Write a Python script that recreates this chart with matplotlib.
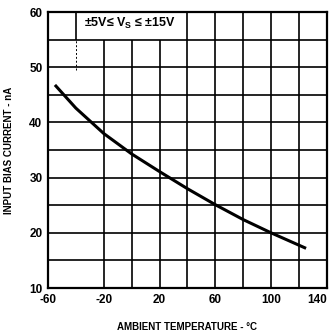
import matplotlib.pyplot as plt

temp = [-55, -40, -20, 0, 20, 40, 60, 80, 100, 125]
bias = [46.8, 42.6, 38.0, 34.3, 31.1, 28.0, 25.1, 22.4, 20.0, 17.2]

xticks = [-60, -20, 20, 60, 100, 140]
yticks = [10, 20, 30, 40, 50, 60]

plt.rcParams['font.family'] = ['Liberation Sans', 'DejaVu Sans']
plt.rcParams['axes.unicode_minus'] = False

fig = plt.figure(figsize=(3.33, 3.35), dpi=100)
ax = fig.add_axes([0.144, 0.140, 0.838, 0.824])
ax.set_xlim(-60, 140)
ax.set_ylim(10, 60)

# grid (some lines are cut by the condition box in the original)
ax.vlines([-20, 0, 20], 10, 55, color='black', lw=1.2)
ax.vlines([40, 60, 80, 100, 120], 10, 60, color='black', lw=1.2)
ax.vlines([-40], 55, 60, color='black', lw=1.2)
ax.vlines([-40], 49.5, 55, color='black', lw=0.7, linestyles=(0, (2, 2)))
ax.hlines([15, 20, 25, 30, 35, 40, 45, 50, 55], -60, 140, color='black', lw=1.2)

ax.plot(temp, bias, color='black', lw=2.2, solid_capstyle='butt')

ax.text(-1.5, 57.9, '±5V≤ V$_\\mathregular{S}$ ≤ ±15V', ha='center', va='center',
        fontsize=9, fontweight='bold')

ax.set_xticks(xticks)
ax.set_yticks(yticks)
ax.tick_params(length=0, labelsize=8.5, pad=4)
for lbl in ax.get_xticklabels() + ax.get_yticklabels():
    lbl.set_fontweight('bold')
ax.get_xticklabels()[-1].set_horizontalalignment('right')
for s in ax.spines.values():
    s.set_linewidth(1.6)

ax.set_xlabel('AMBIENT TEMPERATURE - °C', fontsize=7, fontweight='bold', labelpad=12)
ax.set_ylabel('INPUT BIAS CURRENT - nA', fontsize=7, fontweight='bold', labelpad=11)

fig.savefig('out.png', dpi=100)
